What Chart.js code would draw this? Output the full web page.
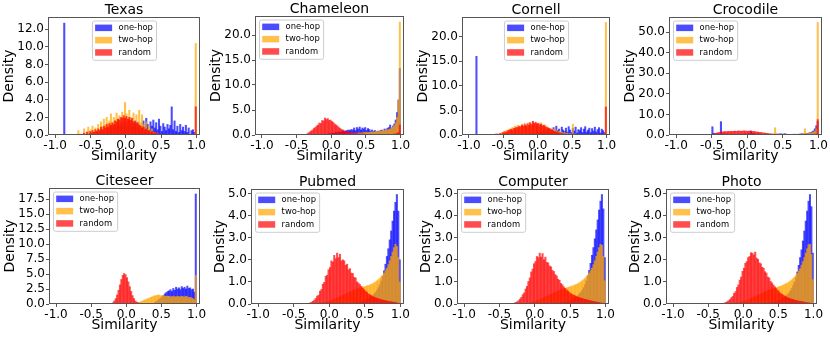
<!DOCTYPE html>
<html>
<head>
<meta charset="utf-8">
<script src="https://cdn.jsdelivr.net/npm/chart.js@4.4.0/dist/chart.umd.min.js"></script>
<style>
html, body { margin: 0; padding: 0; background: #fff; width: 830px; height: 339px; overflow: hidden; }
canvas { position: absolute; }
</style>
</head>
<body>
<script>
// 100 histogram bins of width 0.02 from -1 to 1
const binCenters = Array.from({length: 100}, (_, i) => Math.round((-0.99 + 0.02 * i) * 100) / 100);
const xTicks = [-1, -0.5, 0, 0.5, 1];
const seriesNames = ['one-hop', 'two-hop', 'random'];

// Texas
const texasOne = [
  0,0,0,0,0,0,12.7,0,0,0,
  0,0,0,0,0,0,0,0,0,0,
  0,0,0,0,0,0.3,0,0,0,0.4,
  0,0.5,0,0.6,0.4,0,0.8,0.5,0.9,0.6,
  1.0,0.7,1.2,0.9,1.4,1.1,1.3,1.0,1.5,1.2,
  1.4,1.0,1.6,1.2,0.9,1.3,1.0,1.5,0.8,1.2,
  0.6,1.0,1.6,0.8,1.9,1.2,0.5,1.5,1.0,1.7,
  0.8,1.4,0.6,1.8,1.0,0.4,1.3,0.9,0.5,1.2,
  0.7,1.1,3.2,0.6,1.6,0.4,1.0,0.3,1.2,0.5,
  0.9,0.4,1.1,0.3,0.8,0,0.5,0.6,0.3,0];
const texasTwo = [
  0,0,0,0,0,0,0,0,0,0,
  0,0,0,0,0,0,0.5,0,0,0,
  0.7,0,0.4,0.9,0,0.6,1.0,0.3,0.8,0.5,
  1.2,0.6,1.5,0.9,1.8,1.1,2.0,1.3,1.6,2.4,
  1.4,2.0,1.7,2.5,1.8,2.2,1.5,2.6,2.0,3.7,
  2.4,1.8,2.8,2.0,1.6,2.5,1.2,2.3,1.0,2.8,
  1.4,2.3,1.2,0.8,1.5,0.6,1.0,0.4,0.7,0.3,
  0.3,0,0.2,0,0,0,0,0,0,0,
  0,0,0,0,0,0,0,0,0,0,
  0,0,0,0,0,0,0,0,0,10.4];
const texasRand = [
  0,0,0,0,0,0,0,0,0,0,
  0,0,0,0,0,0,0,0,0.1,0,
  0.2,0,0.3,0.1,0.4,0.2,0.5,0.3,0.6,0.4,
  0.7,0.5,0.9,0.6,1.0,0.8,1.2,0.9,1.3,1.1,
  1.4,1.2,1.6,1.5,1.8,1.7,2.0,1.9,2.2,1.9,
  2.1,1.8,2.0,1.7,1.9,1.5,1.6,1.3,1.4,1.1,
  1.0,0.8,0.9,0.6,0.7,0.5,0.5,0.3,0.4,0.2,
  0.3,0.1,0.2,0.1,0.1,0,0,0,0,0,
  0,0,0,0,0,0,0,0,0,0,
  0,0,0,0,0,0,0,0,0,3.2];

// Chameleon
const chamOne = [
  0,0,0,0,0,0,0,0,0,0,
  0,0,0,0,0,0,0,0,0,0,
  0,0,0,0,0,0,0,0,0,0,
  0,0,0,0,0,0,0,0,0,0,
  0,0,0,0,0,0.1,0.1,0.2,0.2,0.3,
  0.3,0.4,0.4,0.5,0.5,0.6,0.6,0.7,0.7,0.8,
  0.8,0.9,1.0,0.9,1.1,1.0,1.4,0.9,1.5,1.2,
  1.6,1.0,1.4,1.2,1.5,0.9,1.3,1.1,0.8,1.0,
  0.7,0.9,0.6,0.8,0.7,0.9,1.0,0.8,1.2,1.0,
  1.3,1.5,2.0,1.4,1.8,2.2,3.0,4.5,7.0,13.3];
const chamTwo = [
  0,0,0,0,0,0,0,0,0,0,
  0,0,0,0,0,0,0,0,0,0,
  0,0,0,0,0,0,0,0,0,0,
  0,0,0,0,0,0,0,0,0,0,
  0,0,0,0,0,0,0,0,0,0,
  0,0,0,0,0,0.1,0.1,0.1,0.1,0.1,
  0.2,0.2,0.2,0.2,0.3,0.3,0.3,0.3,0.3,0.4,
  0.4,0.4,0.4,0.5,0.5,0.5,0.5,0.5,0.6,0.6,
  0.6,0.6,0.7,0.7,0.7,0.8,0.8,0.9,0.9,1.0,
  1.0,1.1,1.2,1.4,1.6,1.9,2.4,3.5,7.0,22.6];
const chamRand = [
  0,0,0,0,0,0,0,0,0,0,
  0,0,0,0,0,0,0,0,0,0,
  0,0,0,0,0,0,0,0,0,0,
  0,0,0.2,0.4,0.6,0.8,1.0,1.3,1.5,1.8,
  2.0,2.4,2.3,2.9,2.8,3.4,3.1,3.3,2.9,3.0,
  2.7,2.5,2.2,2.0,1.8,1.5,1.3,1.1,1.0,0.8,
  0.7,0.6,0.5,0.5,0.4,0.4,0.3,0.3,0.3,0.2,
  0.2,0.2,0.2,0.2,0.1,0.1,0.1,0.1,0.1,0.1,
  0.1,0.1,0.1,0.1,0.1,0.1,0.1,0.1,0.1,0.1,
  0.1,0.1,0.1,0.1,0.1,0.2,0.2,0.3,0.5,2.0];

// Cornell
const cornellOne = [
  0,0,0,0,0,16.0,0,0,0,0,
  0,0,0,0,0,0,0,0,0,0,
  0,0,0,0,0,0,0,0,0,0,
  0,0,0,0,0,0,0,0,0,0,
  0,0,0,0,0,0.3,0,0.4,0,0.5,
  0.6,0.3,0.8,0.5,1.0,0.4,0.9,0.6,1.2,0.7,
  1.0,1.5,0.6,1.8,0.9,1.2,0.5,1.6,1.0,0.7,
  1.4,0.6,1.7,1.0,0.5,1.3,0.8,1.6,0.4,1.1,
  0.9,1.5,0.5,1.2,1.7,0.6,1.0,1.4,0.5,1.3,
  0.8,1.6,0.6,1.1,1.5,0.4,1.2,0.9,0.5,0];
const cornellTwo = [
  0,0,0,0,0,0,0,0,0,0,
  0,0,0,0,0,0,0,0,0,0,
  0,0,0.3,0,0.5,0.8,0.4,1.0,0.6,1.2,
  0.8,1.5,1.1,1.8,1.3,2.0,1.5,1.2,2.2,1.6,
  2.4,1.8,1.5,2.5,2.0,1.6,2.6,1.9,2.3,1.7,
  2.2,1.5,2.5,1.8,1.3,2.0,1.2,1.6,1.0,1.4,
  0.8,1.2,0.6,1.0,0.5,0.8,0.4,0.6,0.3,0.5,
  0.2,0.4,0,0.3,0,2.2,0,0.2,0,0,
  0,0,0,0,0,0,0,0,0,0,
  0,0,0,0,0,0,0,0,0,22.9];
const cornellRand = [
  0,0,0,0,0,0,0,0,0,0,
  0,0,0,0,0,0,0,0,0.1,0.2,
  0.2,0.1,0.3,0.2,0.5,0.4,0.7,0.6,0.9,1.0,
  1.2,1.0,1.4,1.3,1.6,1.5,1.8,1.7,2.0,1.8,
  2.1,1.9,2.3,2.0,2.5,2.2,2.8,2.4,2.6,2.3,
  2.4,2.1,2.2,1.9,2.0,1.7,1.6,1.4,1.3,1.1,
  1.0,0.8,0.7,0.6,0.5,0.4,0.3,0.3,0.2,0.2,
  0.1,0.1,0.1,0.1,0,0,0,0,0,0,
  0,0,0,0,0,0,0,0,0,0,
  0,0,0,0,0,0,0,0,0,5.7];

// Crocodile
const crocOne = [
  0,0,0,0,0,0,0,0,0,0,
  0,0,0,0,0,0,0,0,0,0,
  0,0,0,0,0.3,4.0,0.8,0.5,0.6,0.4,
  0.5,6.5,0.6,0.4,0.5,0.3,0.4,0.3,0.4,0.3,
  0.3,0.4,0.3,0.3,0.4,0.3,0.4,0.3,0.5,0.4,
  0.5,0.6,2.0,0.8,0.6,0.5,0.4,0.5,0.4,0.3,
  0.3,0.3,0.4,0.3,0.3,0.3,0.4,0.3,0.3,0.3,
  0.3,0.4,0.5,0.6,0.4,0.5,0.6,0.4,0.3,0.3,
  0.3,0.3,0.4,0.3,0.4,0.3,0.4,0.5,0.6,0.5,
  0.6,0.7,0.8,1.0,1.2,1.5,2.0,3.0,4.5,6.5];
const crocTwo = [
  0,0,0,0,0,0,0,0,0,0,
  0,0,0,0,0,0,0,0,0,0,
  0,0,0,0,0,0,0,0,0,0,
  0,0,0,0,0,0,0,0,0,0,
  0,0,0,0,0,0,0,0,0,0,
  0.1,0.1,0.1,0.2,0.1,0.2,0.1,0.2,0.2,0.1,
  0.2,0.2,0.1,0.2,0.2,0.3,0.2,0.3,0.5,3.5,
  1.0,0.4,0.3,0.2,0.2,0.2,0.1,0.2,0.1,0.2,
  0.2,0.2,0.3,0.2,0.3,0.3,0.4,0.4,0.5,0.5,
  3.0,0.6,0.7,0.8,0.9,1.1,1.4,1.9,3.0,54.7];
const crocRand = [
  0,0,0,0,0,0,0,0,0,0,
  0,0,0,0,0,0,0,0,0,0,
  0,0,0,0,0,0,0.4,0.7,0.9,1.1,
  1.3,1.4,1.5,1.6,1.7,1.6,1.7,1.8,1.7,1.8,
  1.8,1.9,1.8,1.9,2.0,1.8,1.9,2.0,1.9,1.9,
  1.8,1.9,1.8,1.7,1.8,1.6,1.5,1.4,1.3,1.2,
  1.1,1.0,0.9,0.8,0.7,0.6,0.5,0.5,0.4,0.3,
  0.3,0.3,0.2,0.2,0.2,0.2,0.1,0.1,0.1,0.1,
  0.1,0.1,0.1,0.1,0.1,0.1,0.1,0.1,0.1,0.1,
  0.1,0.1,0.1,0.1,0.1,0.1,0.2,0.3,0.5,7.5];

// Citeseer
const citeOne = [
  0,0,0,0,0,0,0,0,0,0,
  0,0,0,0,0,0,0,0,0,0,
  0,0,0,0,0,0,0,0,0,0,
  0,0,0,0,0,0,0,0,0,0,
  0,0,0,0,0,0,0,0,0,0,
  0,0,0,0,0,0,0,0,0,0,
  0,0,0,0,0,0,0,0,0,0,
  0.3,0.4,0.6,0.8,1.0,1.2,1.4,1.7,1.9,2.1,
  2.2,2.4,2.1,2.6,2.3,2.8,2.5,2.7,2.4,2.9,
  2.6,2.8,2.5,3.0,2.6,2.7,2.4,2.5,2.0,18.4];
const citeTwo = [
  0,0,0,0,0,0,0,0,0,0,
  0,0,0,0,0,0,0,0,0,0,
  0,0,0,0,0,0,0,0,0,0,
  0,0,0,0,0,0,0,0,0,0,
  0,0,0,0,0,0,0,0,0,0,
  0,0,0,0,0,0,0.1,0.1,0.2,0.3,
  0.4,0.5,0.6,0.7,0.8,0.9,1.0,1.1,1.2,1.3,
  1.4,1.4,1.5,1.5,1.4,1.4,1.4,1.3,1.3,1.3,
  1.3,1.2,1.2,1.3,1.2,1.2,1.3,1.2,1.2,1.3,
  1.2,1.2,1.3,1.2,1.1,1.1,1.0,0.9,0.7,4.8];
const citeRand = [
  0,0,0,0,0,0,0,0,0,0,
  0,0,0,0,0,0,0,0,0,0,
  0,0,0,0,0,0,0,0,0,0,
  0,0,0,0,0,0,0,0,0,0,
  0.2,0.5,0.9,1.5,2.3,3.2,4.1,4.8,5.1,4.9,
  4.4,3.7,2.9,2.1,1.4,0.9,0.5,0.3,0.2,0.1,
  0.1,0,0,0,0,0,0,0,0,0,
  0,0,0,0,0,0,0,0,0,0,
  0,0,0,0,0,0,0,0,0,0,
  0,0,0,0,0,0,0,0,0,0];

// Pubmed
const pubOne = [
  0,0,0,0,0,0,0,0,0,0,
  0,0,0,0,0,0,0,0,0,0,
  0,0,0,0,0,0,0,0,0,0,
  0,0,0,0,0,0,0,0,0,0,
  0,0,0,0,0,0,0,0,0,0,
  0,0,0,0,0,0,0,0,0,0,
  0,0,0,0,0,0.02,0.03,0.04,0.05,0.06,
  0.08,0.09,0.11,0.13,0.15,0.18,0.21,0.25,0.29,0.33,
  0.38,0.44,0.52,0.62,0.74,0.88,1.05,1.25,1.5,1.8,
  2.15,2.5,2.9,3.3,3.75,4.2,4.6,4.95,4.2,2.0];
const pubTwo = [
  0,0,0,0,0,0,0,0,0,0,
  0,0,0,0,0,0,0,0,0,0,
  0,0,0,0,0,0,0,0,0,0,
  0,0,0,0,0,0,0,0,0,0,
  0.01,0.01,0.02,0.03,0.04,0.05,0.06,0.08,0.1,0.12,
  0.14,0.16,0.18,0.21,0.24,0.27,0.3,0.33,0.36,0.39,
  0.42,0.45,0.48,0.51,0.54,0.57,0.6,0.63,0.65,0.68,
  0.7,0.72,0.74,0.76,0.78,0.8,0.82,0.84,0.86,0.89,
  0.92,0.96,1.0,1.05,1.1,1.16,1.23,1.31,1.4,1.5,
  1.62,1.78,1.95,2.15,2.35,2.55,2.7,2.6,2.1,1.0];
const pubRand = [
  0,0,0,0,0,0,0,0,0,0,
  0,0,0,0,0,0,0,0,0,0,
  0,0,0,0,0,0,0,0,0,0,
  0,0,0,0,0,0.02,0.05,0.08,0.12,0.18,
  0.25,0.36,0.4,0.58,0.66,0.9,0.98,1.25,1.3,1.55,
  1.65,1.95,1.9,2.2,2.05,2.3,2.1,2.25,1.95,2.0,
  1.95,1.75,1.8,1.55,1.6,1.4,1.38,1.2,1.18,1.0,
  0.95,0.88,0.8,0.72,0.65,0.58,0.52,0.46,0.42,0.38,
  0.34,0.31,0.28,0.26,0.24,0.22,0.2,0.18,0.17,0.15,
  0.14,0.12,0.11,0.1,0.09,0.08,0.07,0.05,0.03,0.01];

// Computer
const compOne = [
  0,0,0,0,0,0,0,0,0,0,
  0,0,0,0,0,0,0,0,0,0,
  0,0,0,0,0,0,0,0,0,0,
  0,0,0,0,0,0,0,0,0,0,
  0,0,0,0,0,0,0,0,0,0,
  0,0,0,0,0,0,0,0,0,0,
  0,0,0,0,0.01,0.02,0.03,0.04,0.05,0.06,
  0.07,0.09,0.1,0.12,0.14,0.17,0.2,0.24,0.28,0.33,
  0.38,0.45,0.53,0.62,0.74,0.88,1.05,1.27,1.52,1.84,
  2.2,2.55,2.95,3.35,3.8,4.25,4.65,4.95,4.3,2.1];
const compTwo = [
  0,0,0,0,0,0,0,0,0,0,
  0,0,0,0,0,0,0,0,0,0,
  0,0,0,0,0,0,0,0,0,0,
  0,0,0,0,0,0,0,0,0,0,
  0,0.01,0.02,0.02,0.03,0.04,0.05,0.07,0.09,0.11,
  0.13,0.15,0.18,0.2,0.23,0.26,0.29,0.32,0.35,0.38,
  0.41,0.44,0.47,0.5,0.53,0.56,0.59,0.62,0.64,0.67,
  0.69,0.71,0.73,0.75,0.77,0.79,0.81,0.83,0.86,0.89,
  0.92,0.96,1.0,1.05,1.1,1.16,1.23,1.31,1.4,1.5,
  1.62,1.78,1.95,2.15,2.35,2.55,2.7,2.65,2.15,1.05];
const compRand = [
  0,0,0,0,0,0,0,0,0,0,
  0,0,0,0,0,0,0,0,0,0,
  0,0,0,0,0,0,0,0,0,0,
  0,0,0,0,0.02,0.04,0.07,0.1,0.15,0.22,
  0.3,0.42,0.5,0.68,0.8,1.02,1.18,1.45,1.58,1.82,
  1.92,2.15,2.1,2.3,2.12,2.28,2.0,2.12,1.88,1.86,
  1.72,1.68,1.52,1.47,1.33,1.27,1.12,1.07,0.93,0.87,
  0.78,0.7,0.64,0.58,0.52,0.47,0.43,0.4,0.37,0.34,
  0.31,0.29,0.27,0.25,0.23,0.21,0.2,0.18,0.16,0.15,
  0.13,0.12,0.1,0.09,0.08,0.07,0.05,0.04,0.02,0.01];

// Photo
const photoOne = [
  0,0,0,0,0,0,0,0,0,0,
  0,0,0,0,0,0,0,0,0,0,
  0,0,0,0,0,0,0,0,0,0,
  0,0,0,0,0,0,0,0,0,0,
  0,0,0,0,0,0,0,0,0,0,
  0,0,0,0,0,0,0,0,0,0,
  0,0,0,0,0,0.01,0.02,0.03,0.04,0.05,
  0.06,0.08,0.09,0.11,0.13,0.16,0.19,0.22,0.26,0.31,
  0.36,0.42,0.5,0.59,0.7,0.84,1.0,1.2,1.45,1.75,
  2.1,2.45,2.85,3.3,3.75,4.2,4.65,4.95,4.4,2.3];
const photoTwo = [
  0,0,0,0,0,0,0,0,0,0,
  0,0,0,0,0,0,0,0,0,0,
  0,0,0,0,0,0,0,0,0,0,
  0,0,0,0,0,0,0,0,0,0,
  0,0,0.01,0.02,0.03,0.04,0.05,0.06,0.08,0.1,
  0.12,0.14,0.17,0.19,0.22,0.25,0.28,0.31,0.34,0.37,
  0.4,0.43,0.46,0.49,0.52,0.55,0.58,0.61,0.64,0.66,
  0.68,0.7,0.72,0.74,0.76,0.78,0.8,0.83,0.86,0.89,
  0.92,0.95,0.99,1.04,1.09,1.15,1.22,1.3,1.39,1.49,
  1.6,1.75,1.92,2.1,2.3,2.5,2.68,2.7,2.25,1.1];
const photoRand = [
  0,0,0,0,0,0,0,0,0,0,
  0,0,0,0,0,0,0,0,0,0,
  0,0,0,0,0,0,0,0,0,0,
  0,0,0,0,0,0.02,0.04,0.07,0.1,0.15,
  0.2,0.29,0.34,0.48,0.56,0.75,0.86,1.08,1.22,1.48,
  1.62,1.84,1.92,2.1,2.15,2.32,2.3,2.22,2.35,2.08,
  2.02,1.86,1.82,1.66,1.62,1.46,1.4,1.22,1.18,1.02,
  0.95,0.86,0.78,0.7,0.62,0.55,0.49,0.44,0.4,0.36,
  0.32,0.29,0.26,0.24,0.22,0.2,0.18,0.16,0.15,0.13,
  0.12,0.11,0.1,0.08,0.07,0.06,0.05,0.04,0.02,0.01];

const panels = [
  {title: 'Texas', one: texasOne, two: texasTwo, rand: texasRand, yMax: 13.4, yTicks: [0, 2, 4, 6, 8, 10, 12], legendAt: 'center'},
  {title: 'Chameleon', one: chamOne, two: chamTwo, rand: chamRand, yMax: 23.8, yTicks: [0, 5, 10, 15, 20], legendAt: 'left'},
  {title: 'Cornell', one: cornellOne, two: cornellTwo, rand: cornellRand, yMax: 24.0, yTicks: [0, 5, 10, 15, 20], legendAt: 'center'},
  {title: 'Crocodile', one: crocOne, two: crocTwo, rand: crocRand, yMax: 57.4, yTicks: [0, 10, 20, 30, 40, 50], legendAt: 'left'},
  {title: 'Citeseer', one: citeOne, two: citeTwo, rand: citeRand, yMax: 19.4, yTicks: [0, 2.5, 5, 7.5, 10, 12.5, 15, 17.5], legendAt: 'left'},
  {title: 'Pubmed', one: pubOne, two: pubTwo, rand: pubRand, yMax: 5.2, yTicks: [0, 1, 2, 3, 4, 5], legendAt: 'left'},
  {title: 'Computer', one: compOne, two: compTwo, rand: compRand, yMax: 5.2, yTicks: [0, 1, 2, 3, 4, 5], legendAt: 'left'},
  {title: 'Photo', one: photoOne, two: photoTwo, rand: photoRand, yMax: 5.2, yTicks: [0, 1, 2, 3, 4, 5], legendAt: 'left'}
];

// page layout: plot boxes [left, top, right, bottom] and canvas placement
const plotBoxes = [
  [48, 17, 200, 135], [255, 16, 404, 135], [462, 17, 610, 135], [669, 17, 822, 135],
  [49, 188, 200, 304], [251, 189, 404, 304], [457, 189, 609, 304], [666, 189, 817, 304]
];
const colLeft = [0, 200, 405, 610];
const rowTop = [0, 166];
const rowHeight = [166, 173];

const FONT = '"DejaVu Sans", sans-serif';
const COLORS = ['rgba(0,0,255,0.7)', 'rgba(255,165,0,0.7)', 'rgba(255,0,0,0.7)'];
const SPINE = '#555';

function drawLegend(ctx, a, where) {
  const bp = 3.2, hl = 17, hh = 6.5, tp = 6.4, rowH = 8.3, sp = 4;
  ctx.font = '8.4px ' + FONT;
  const tw = Math.max(...seriesNames.map(t => ctx.measureText(t).width));
  const w = bp * 2 + hl + tp + tw, h = bp * 2 + rowH * 3 + sp * 2;
  const x = where === 'center' ? (a.left + a.right) / 2 - w / 2 : a.left + 4;
  const y = a.top + 3.5;
  ctx.beginPath();
  ctx.roundRect(x + 0.5, y + 0.5, w, h, 2);
  ctx.fillStyle = 'rgba(255,255,255,0.8)';
  ctx.fill();
  ctx.strokeStyle = '#cccccc';
  ctx.lineWidth = 1;
  ctx.stroke();
  ctx.textAlign = 'left';
  ctx.textBaseline = 'middle';
  seriesNames.forEach((t, i) => {
    const cy = y + bp + rowH / 2 + i * (rowH + sp);
    ctx.fillStyle = COLORS[i];
    ctx.fillRect(x + bp, cy - hh / 2, hl, hh);
    ctx.fillStyle = '#000';
    ctx.fillText(t, x + bp + hl + tp, cy);
  });
}

const decor = {
  id: 'decor',
  afterDraw(chart, args, opts) {
    const {ctx, chartArea: a} = chart;
    ctx.save();
    ctx.strokeStyle = SPINE;
    ctx.lineWidth = 1;
    const l = Math.round(a.left) + 0.5, t = Math.round(a.top) + 0.5;
    const r = Math.round(a.right) - 0.5, b = Math.round(a.bottom) - 0.5;
    ctx.strokeRect(l, t, r - l, b - t);
    drawLegend(ctx, a, opts.legendAt);
    ctx.fillStyle = '#000';
    ctx.font = '14px ' + FONT;
    ctx.textAlign = 'center';
    ctx.textBaseline = 'alphabetic';
    const cx = (a.left + a.right) / 2;
    ctx.fillText(opts.title, cx, a.top - 3);
    ctx.fillText('Similarity', cx, a.bottom + 25);
    ctx.translate(chart.scales.y.left - 3, (a.top + a.bottom) / 2);
    ctx.rotate(-Math.PI / 2);
    ctx.fillText('Density', 0, 0);
    ctx.restore();
  }
};

function axisStyle() {
  return {
    grid: {display: true, drawOnChartArea: false, drawTicks: true, tickLength: 3, color: SPINE, offset: false},
    border: {display: false},
    ticks: {font: {family: FONT, size: 12}, color: '#000', padding: 1, autoSkip: false, maxRotation: 0,
            callback: v => Number(v).toFixed(1)}
  };
}

// shift layout padding until the plot area sits on the target box
function fitTo(chart, box) {
  for (let k = 0; k < 4; k++) {
    const a = chart.chartArea;
    const p = chart.config.options.layout.padding;
    chart.config.options.layout.padding = {
      left: p.left + box[0] - a.left,
      top: p.top + box[1] - a.top,
      right: p.right + a.right - box[2],
      bottom: p.bottom + a.bottom - box[3]
    };
    chart.update('none');
  }
}

panels.forEach((p, i) => {
  const col = i % 4, row = Math.floor(i / 4);
  const cv = document.createElement('canvas');
  const left = colLeft[col], top = rowTop[row];
  cv.width = 232;
  cv.height = rowHeight[row];
  cv.style.left = left + 'px';
  cv.style.top = top + 'px';
  document.body.appendChild(cv);

  const xAxis = axisStyle();
  const yAxis = axisStyle();
  const chart = new Chart(cv, {
    type: 'bar',
    data: {
      labels: binCenters,
      // drawn last-to-first, so random ends up on top like the original
      datasets: [
        {label: 'random', data: p.rand, backgroundColor: COLORS[2]},
        {label: 'two-hop', data: p.two, backgroundColor: COLORS[1]},
        {label: 'one-hop', data: p.one, backgroundColor: COLORS[0]}
      ]
    },
    options: {
      responsive: false,
      animation: false,
      events: [],
      layout: {padding: {left: 10, top: 17, right: 10, bottom: 20}},
      datasets: {bar: {grouped: false, barPercentage: 1, categoryPercentage: 1, borderWidth: 0}},
      plugins: {legend: {display: false}, tooltip: {enabled: false}, title: {display: false},
                decor: {title: p.title, legendAt: p.legendAt}},
      scales: {
        x: Object.assign(xAxis, {type: 'linear', min: -1.1, max: 1.05, offset: false,
          afterBuildTicks: ax => { ax.ticks = xTicks.map(v => ({value: v})); }}),
        y: Object.assign(yAxis, {min: 0, max: p.yMax,
          afterBuildTicks: ax => { ax.ticks = p.yTicks.map(v => ({value: v})); }})
      }
    },
    plugins: [decor]
  });
  fitTo(chart, [plotBoxes[i][0] - left, plotBoxes[i][1] - top, plotBoxes[i][2] - left, plotBoxes[i][3] - top]);
});
</script>
</body>
</html>
